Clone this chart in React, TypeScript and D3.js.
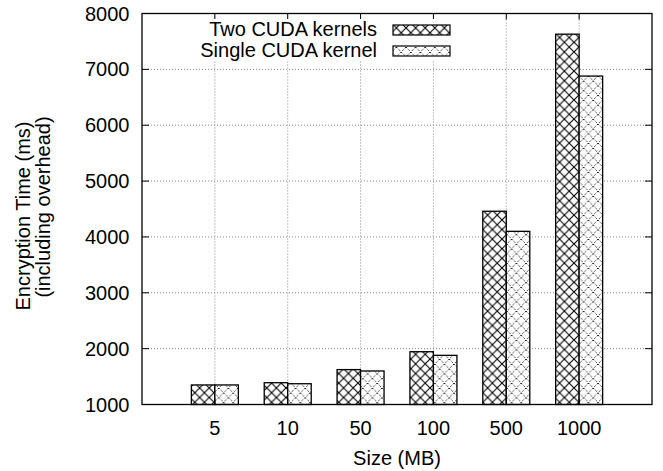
import { useMemo } from 'react';
import * as d3 from 'd3';

// values (ms)
const sizes = ['5', '10', '50', '100', '500', '1000'];
const twoKernels = [1350, 1390, 1625, 1945, 4460, 7630];
const singleKernel = [1350, 1372, 1600, 1880, 4100, 6880];
const yTickValues = [1000, 2000, 3000, 4000, 5000, 6000, 7000, 8000];
const seriesNames = ['Two CUDA kernels', 'Single CUDA kernel'];

const width = 663;
const height = 471;
const margin = { top: 13.5, right: 11, bottom: 66.5, left: 142 };
const font = '"Liberation Sans", Arial, Helvetica, sans-serif';

const App = () => {
  const boundWidth = width - margin.left - margin.right;
  const boundHeight = height - margin.top - margin.bottom;
  const barWidth = 23.5;

  const xScale = useMemo(() => {
    return d3.scalePoint<string>()
      .domain(sizes)
      .range([0, boundWidth])
      .padding(1);
  }, [boundWidth]);

  const yScale = useMemo(() => {
    return d3.scaleLinear()
      .domain([1000, 8000])
      .range([boundHeight, 0]);
  }, [boundHeight]);

  const series = [twoKernels, singleKernel];
  const fills = ['url(#hatchA)', 'url(#hatchB)'];

  const renderBars = sizes.map((s, i) => {
    const cx = xScale(s) as number;
    return (
      <g key={s}>
        {series.map((vals, k) => (
          <rect
            key={k}
            x={cx - barWidth + k * barWidth}
            y={yScale(vals[i])}
            width={barWidth}
            height={boundHeight - yScale(vals[i])}
            fill={fills[k]}
            stroke="#000"
            strokeWidth={1.3}
          />
        ))}
      </g>
    );
  });

  return (
    <svg
      width={width}
      height={height}
      style={{ position: 'absolute', left: 0, top: 0, background: '#fff' }}
      fontFamily={font}
    >
      <defs>
        <pattern id="hatchA" patternUnits="userSpaceOnUse" width={9.6} height={9.6}>
          <rect width={9.6} height={9.6} fill="#fff" />
          <path d="M0,0L9.6,9.6M9.6,0L0,9.6" stroke="#000" strokeWidth={1.1} />
        </pattern>
        <pattern id="hatchB" patternUnits="userSpaceOnUse" width={9.6} height={9.6}>
          <rect width={9.6} height={9.6} fill="#fff" />
          <path
            d="M0,0L9.6,9.6M9.6,0L0,9.6"
            stroke="#000"
            strokeWidth={0.9}
            strokeDasharray="1.7,1.7"
          />
        </pattern>
      </defs>

      <g transform={`translate(${margin.left}, ${margin.top})`}>
        {/* GRID */}
        {yTickValues.slice(1, -1).map(t => (
          <line
            key={'gy' + t}
            x1={0}
            x2={boundWidth}
            y1={yScale(t)}
            y2={yScale(t)}
            stroke="#888"
            strokeDasharray="1,2"
          />
        ))}
        {sizes.map(s => (
          <line
            key={'gx' + s}
            x1={xScale(s)}
            x2={xScale(s)}
            y1={0}
            y2={boundHeight}
            stroke="#888"
            strokeDasharray="1,2"
          />
        ))}

        {renderBars}

        {/* TICKS both sides */}
        {yTickValues.map(t => (
          <g key={'ty' + t}>
            <line x1={0} x2={7} y1={yScale(t)} y2={yScale(t)} stroke="#000" />
            <line x1={boundWidth - 7} x2={boundWidth} y1={yScale(t)} y2={yScale(t)} stroke="#000" />
            <text
              x={-12.5}
              y={yScale(t) + 7}
              textAnchor="end"
              fontSize={20}
            >
              {t}
            </text>
          </g>
        ))}
        {sizes.map(s => (
          <g key={'tx' + s}>
            <line x1={xScale(s)} x2={xScale(s)} y1={boundHeight} y2={boundHeight - 6} stroke="#000" />
            <line x1={xScale(s)} x2={xScale(s)} y1={0} y2={6} stroke="#000" />
            <text
              x={xScale(s)}
              y={boundHeight + 30}
              textAnchor="middle"
              fontSize={20}
            >
              {s}
            </text>
          </g>
        ))}

        {/* LEGEND */}
        <rect x={200 - margin.left} y={19 - margin.top} width={256} height={41} fill="#fff" />
        {seriesNames.map((name, k) => (
          <g key={name}>
            <text
              x={377 - margin.left}
              y={36 + k * 20.5 - margin.top}
              textAnchor="end"
              fontSize={20}
            >
              {name}
            </text>
            <rect
              x={393 - margin.left}
              y={25 + k * 21 - margin.top}
              width={57}
              height={10}
              fill={fills[k]}
              stroke="#000"
              strokeWidth={1.2}
            />
          </g>
        ))}

        {/* FRAME */}
        <rect
          x={0}
          y={0}
          width={boundWidth}
          height={boundHeight}
          fill="none"
          stroke="#000"
          strokeWidth={1.3}
        />
      </g>

      {/* AXIS LABELS */}
      <text x={397} y={465} textAnchor="middle" fontSize={20}>
        Size (MB)
      </text>
      <text transform="translate(30, 216) rotate(-90)" textAnchor="middle" fontSize={20}>
        Encryption Time (ms)
      </text>
      <text transform="translate(50, 207) rotate(-90)" textAnchor="middle" fontSize={20}>
        (including overhead)
      </text>
    </svg>
  );
};

export default App;
